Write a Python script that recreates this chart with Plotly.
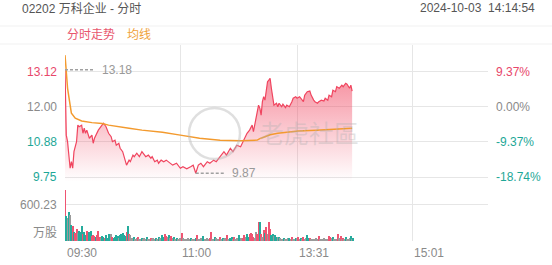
import plotly.graph_objects as go

# ---------------- data ----------------
price_times = ["09:30","09:31","09:32","09:33","09:34","09:35","09:36","09:37","09:39","09:40",
               "09:41","09:43","09:44","09:45","09:46","09:47","09:49","09:51","09:52","09:53",
               "09:55","09:56","09:58","10:00","10:02","10:04","10:06","10:07","10:09","10:10",
               "10:12","10:13","10:15","10:17","10:18","10:20","10:21","10:23","10:24","10:26",
               "10:28","10:30","10:32","10:33","10:35","10:37","10:38","10:40","10:42","10:43",
               "10:45","10:47","10:49","10:52","10:54","10:57","11:00","11:02","11:05","11:08",
               "11:10","11:12","11:14","11:16","11:18","11:21","11:23","11:26","11:28","11:31",
               "11:34","11:36","11:39","11:41","11:44","11:47","11:49","11:52","11:54","11:56",
               "11:57","11:59","12:00","13:01","13:02","13:03","13:04","13:05","13:06","13:07",
               "13:08","13:09","13:10","13:11","13:12","13:13","13:15","13:16","13:17","13:19",
               "13:20","13:22","13:23","13:25","13:27","13:28","13:30","13:31","13:33","13:34",
               "13:36","13:37","13:39","13:41","13:42","13:44","13:45","13:47","13:48","13:50",
               "13:52","13:53","13:55","13:56","13:58","13:59","14:01","14:02","14:04","14:06",
               "14:07","14:09","14:10","14:12","14:13","14:14"]
prices = [13.18,11.09,10.88,10.36,10.03,10.24,10.03,10.56,10.88,11.41,
          11.36,11.41,11.15,11.31,11.15,11.25,10.99,11.09,10.83,10.99,
          11.20,11.25,11.36,11.47,11.36,11.15,11.04,10.88,10.93,10.77,
          10.83,10.67,10.56,10.29,10.13,10.29,10.24,10.45,10.40,10.51,
          10.40,10.56,10.45,10.40,10.45,10.35,10.40,10.24,10.29,10.19,
          10.29,10.24,10.29,10.19,10.13,10.19,10.03,10.08,10.01,10.08,
          10.13,9.87,10.13,10.19,10.08,10.24,10.19,10.29,10.24,10.40,
          10.56,10.45,10.67,10.56,10.77,10.72,10.88,11.15,11.25,11.41,
          11.20,11.63,11.84,12.05,11.95,11.73,12.16,12.32,12.21,12.48,
          12.80,12.85,12.91,12.59,12.37,12.05,12.11,12.00,12.11,12.00,
          12.08,11.97,12.05,12.00,12.16,12.27,12.32,12.27,12.32,12.27,
          12.16,12.37,12.48,12.50,12.37,12.21,12.16,12.11,12.16,12.21,
          12.18,12.27,12.21,12.37,12.32,12.53,12.48,12.64,12.59,12.69,
          12.64,12.75,12.72,12.59,12.69,12.50]

avg_times = ["09:30","09:31","09:32","09:34","09:35","09:38","09:43","09:51","09:59","10:04",
             "10:14","10:20","10:30","10:38","10:46","11:00","11:15","11:31","11:47","12:00",
             "13:02","13:06","13:10","13:16","13:23","13:32","13:46","14:03","14:14"]
avg_prices = [13.65,13.12,12.59,12.05,11.79,11.63,11.54,11.49,11.46,11.41,
              11.36,11.31,11.25,11.22,11.18,11.09,10.99,10.93,10.91,10.93,
              10.98,11.04,11.10,11.15,11.18,11.22,11.25,11.29,11.31]

# volume per minute (万股), one entry per session minute from 09:30
volumes = [1100,420,380,480,440,270,255,155,130,200,
           130,165,155,255,110,155,100,165,100,145,
           165,90,100,90,70,100,165,70,55,90,
           70,45,100,55,110,70,110,70,45,70,
           100,90,55,100,110,130,100,90,145,255,
           110,100,50,35,60,30,45,70,35,40,
           55,30,45,35,60,40,30,50,35,45,
           30,55,40,70,45,35,100,70,110,90,
           60,100,55,90,45,70,35,55,40,30,
           45,130,50,30,40,35,45,30,55,30,
           40,35,50,100,40,30,45,35,90,40,
           30,45,35,55,145,40,35,70,45,30,
           40,60,35,55,30,45,100,40,35,50,
           60,40,70,35,50,30,100,45,35,55,
           100,60,110,70,110,130,110,70,55,155,
           110,310,310,110,60,185,140,240,110,320,
           205,100,110,90,100,70,75,70,55,40,
           35,55,40,30,45,50,35,70,40,35,
           55,45,70,35,50,40,70,30,45,100,
           55,45,35,30,40,35,45,30,90,40,
           35,30,45,35,30,40,90,70,45,60,
           35,40,30,110,45,90,35,55,40,70,
           35,30,45,90,40,55]
# R = up, T = down, G = flat
vol_dirs = ("RTGTGTRTRR" "GTTTRTTRRT" "TRRRTRRRGT" "TRTTTTGRTT" "TTGTTTTTRT"
            "RGGGTGGRGG" "TGGGTGGRGG" "GTGTGGTTRR" "GTGRGTGTGG" "GRGGGGGGTG"
            "GGTRGGGGTG" "GGGRRGGTGG" "GRGTGGRGGT" "TGRGGGTGGR" "RGTTRRRRGG"
            "RRTRGRTRGR" "RTTGTTGTGG" "GTGGGTGRGG" "TGRGTGRGGT" "TRGGGGGGRG"
            "GGGGGGRRGT" "GGGRGRGRGT" "GGGTGT")

prev_close = 12.00
price_ticks = [13.12, 12.00, 10.88, 9.75]
pct_labels = ["9.37%", "0.00%", "-9.37%", "-18.74%"]
vol_tick = 600.23
time_ticks = ["09:30", "11:00", "13:31", "15:01"]
session_end = "16:00"

title_text = "02202 万科企业 - 分时"
stamp_text = "2024-10-03\u00a0\u00a014:14:54"

# ---------------- helpers ----------------
def to_idx(t):
    h, m = map(int, t.split(":"))
    mins = h * 60 + m
    if mins <= 12 * 60:
        return mins - (9 * 60 + 30)
    return 150 + mins - 13 * 60

RED = "#f0455f"
RED_TXT = "#e8476a"
TEAL = "#1ea797"
GRAY_TXT = "#8a8a8a"
ORANGE = "#f39a2e"
GRID = "#e6e6e6"
FONT = "Liberation Sans, Arial, Noto Sans CJK SC, sans-serif"

W, H = 552, 265
PL, PR, PT, PB, SPLIT = 65, 488, 45, 241, 190

def px(xp):
    return (xp - PL) / (PR - PL)

def py(yp):
    return (PB - yp) / (PB - PT)

vol_frac = (PB - SPLIT) / (PB - PT)
x_end = to_idx(session_end)
p_lo = 9.334
p_hi = 13.974

px_idx = [to_idx(t) for t in price_times]
av_idx = [to_idx(t) for t in avg_times]
v_idx = list(range(len(volumes)))
dir_col = {"R": "#ef5472", "T": "#25ab9c", "G": "#9a9a9a"}
v_colors = [dir_col[c] for c in vol_dirs]

fig = go.Figure()

fig.add_trace(go.Scatter(
    x=px_idx, y=prices, mode="lines",
    line=dict(color=RED, width=1.2),
    fill="tozeroy",
    fillgradient=dict(type="vertical",
                      colorscale=[[0, "rgba(240,69,95,0.0)"], [1, "rgba(240,69,95,0.6)"]],
                      start=9.6, stop=13.0),
    xaxis="x", yaxis="y", hoverinfo="skip", showlegend=False))

fig.add_trace(go.Scatter(
    x=av_idx, y=avg_prices, mode="lines",
    line=dict(color=ORANGE, width=1.5),
    xaxis="x", yaxis="y", hoverinfo="skip", showlegend=False))

fig.add_trace(go.Bar(
    x=v_idx, y=volumes, marker=dict(color=v_colors, line=dict(width=0)),
    width=0.8, xaxis="x2", yaxis="y2", hoverinfo="skip", showlegend=False))

tickvals_x = [to_idx(t) for t in time_ticks] + [x_end]

axis_common = dict(showgrid=True, gridcolor=GRID, gridwidth=1, zeroline=False,
                   showline=False, showticklabels=False, ticks="", fixedrange=True)

fig.update_layout(
    width=W, height=H,
    margin=dict(l=PL, r=W - PR, t=PT, b=H - PB, pad=0),
    paper_bgcolor="white", plot_bgcolor="white",
    font=dict(family=FONT, size=12, color=GRAY_TXT),
    bargap=0,
    xaxis=dict(domain=[0, 1], range=[0, x_end], anchor="y", tickvals=tickvals_x, **axis_common),
    yaxis=dict(domain=[vol_frac, 1], range=[p_lo, p_hi], anchor="x", tickvals=price_ticks, **axis_common),
    xaxis2=dict(domain=[0, 1], range=[0, x_end], anchor="y2", tickvals=tickvals_x, **axis_common),
    yaxis2=dict(domain=[0, vol_frac], range=[0, 850], anchor="x2", tickvals=[0, vol_tick], **axis_common),
)

ann = []
def add_text(text, x, y, xref="paper", yref="paper", xanchor="left", yanchor="middle",
             color=GRAY_TXT, size=12, **kw):
    ann.append(dict(text=text, x=x, y=y, xref=xref, yref=yref, xanchor=xanchor,
                    yanchor=yanchor, showarrow=False, font=dict(color=color, size=size, family=FONT),
                    **kw))

# header
add_text(title_text, px(20), py(8.5), color="#555555")
add_text(stamp_text, px(537), py(8.5), xanchor="right", color="#555555")
add_text("分时走势", px(65), py(35), color="#e8566e")
add_text("均线", px(125), py(35), color="#f0a23a")

# price axis labels
lab_cols = [RED_TXT, GRAY_TXT, TEAL, TEAL]
for v, pl, c in zip(price_ticks, pct_labels, lab_cols):
    add_text(f"{v:.2f}", 0, v, yref="y", xanchor="right", color=c, xshift=-6)
    add_text(pl, 1, v, yref="y", xanchor="left", color=c, xshift=6)

# volume labels
add_text(f"{vol_tick:.2f}", 0, vol_tick, yref="y2", xanchor="right", xshift=-6)
add_text("万股", 0, 0, yref="y2", xanchor="right", yanchor="bottom", xshift=-6, yshift=-1)

# time labels
for t in time_ticks:
    add_text(t, to_idx(t), 0, xref="x2", yref="paper", xanchor="left", yanchor="top", yshift=-3)

# max / min markers
i_max = max(range(len(prices)), key=lambda i: prices[i])
i_min = min(range(len(prices)), key=lambda i: prices[i])
shapes = []
for i in (i_max, i_min):
    x0 = px_idx[i]
    shapes.append(dict(type="line", xref="x", yref="y", x0=x0, x1=x0 + 23,
                       y0=prices[i], y1=prices[i],
                       line=dict(color="#a0a0a0", width=1.5, dash="3px,2px")))
    add_text(f"{prices[i]:.2f}", x0 + 27, prices[i], xref="x", yref="y", color="#999999")

# header band lines
for yy in (26, 44):
    shapes.append(dict(type="line", xref="paper", yref="paper", x0=px(0), x1=px(552),
                       y0=py(yy), y1=py(yy), line=dict(color="#f1f1f1", width=1)))

# watermark
shapes.append(dict(type="circle", xref="paper", yref="paper",
                   x0=px(189), x1=px(240), y0=py(108), y1=py(159),
                   line=dict(color="rgba(185,185,185,0.45)", width=2.5)))
add_text("老虎社區", px(309), py(134), xanchor="center", color="rgba(175,175,175,0.35)", size=25)

fig.update_layout(annotations=ann, shapes=shapes)

fig.write_html("out.html")
